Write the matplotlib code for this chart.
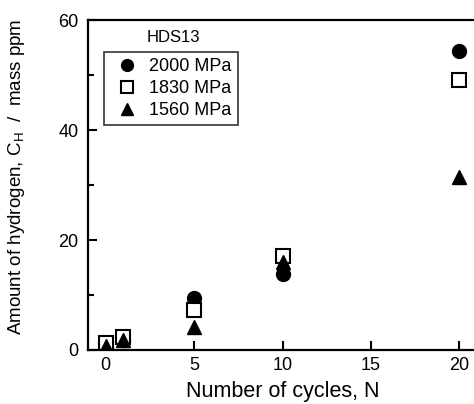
import matplotlib
matplotlib.use('Agg')
from matplotlib import pyplot

pyplot.rcParams['font.family'] = ['Liberation Sans', 'DejaVu Sans']
pyplot.rcParams['mathtext.fontset'] = 'custom'
pyplot.rcParams['mathtext.rm'] = 'Liberation Sans'

# data
cycles = [0, 1, 5, 10, 20]
h2000 = [0.3, 1.8, 9.5, 13.8, 54.5]
h1830 = [1.2, 2.3, 7.3, 17.2, 49.1]
h1560 = [0.8, 1.8, 4.2, 16.0, 31.5]
seriesLabels = ['2000 MPa', '1830 MPa', '1560 MPa']
steelName = 'HDS13'

figure = pyplot.figure(figsize=(4.74, 4.04), dpi=100)
axes = figure.add_axes([0.1857, 0.1337, 0.8207, 0.8156])

axes.plot(cycles, h2000, 'o', color='black', markersize=10, label=seriesLabels[0])
axes.plot(cycles, h1830, 's', markerfacecolor='white', markeredgecolor='black',
          markeredgewidth=1.5, markersize=10, label=seriesLabels[1])
axes.plot(cycles, h1560, '^', color='black', markersize=10, label=seriesLabels[2])

axes.set_xlim(-1, 21)
axes.set_ylim(0, 60)
axes.set_xticks([0, 5, 10, 15, 20])
axes.set_yticks([0, 20, 40, 60])
axes.set_yticks([10, 30, 50], minor=True)
axes.tick_params(which='both', direction='in', labelsize=13, width=1.5)
axes.tick_params(which='major', length=6.5)
axes.tick_params(which='minor', length=4)
axes.tick_params(axis='x', pad=5)
axes.tick_params(axis='y', pad=7)
axes.tick_params(top=False, right=False, which='both')
for side in ['left', 'bottom', 'top']:
    axes.spines[side].set_linewidth(1.6)
axes.spines['right'].set_visible(False)

axes.set_xlabel('Number of cycles, N', fontsize=15.5, labelpad=5)
axes.set_ylabel(r'Amount of hydrogen, C$_{\mathregular{H}}$  /  mass ppm', fontsize=13.5)
axes.yaxis.set_label_coords(-0.158, 0.525)

legend = axes.legend(loc='upper left', bbox_to_anchor=(104 / 474, (404 - 51.7) / 404),
                     bbox_transform=figure.transFigure, borderaxespad=0,
                     frameon=True, fancybox=False, edgecolor='black', fontsize=13,
                     markerscale=0.85, handlelength=1.8, handletextpad=0.35,
                     labelspacing=0.28, borderpad=0.35)
legend.get_frame().set_linewidth(1.2)
figure.text(173 / 474, (404 - 38) / 404, steelName, fontsize=12, ha='center', va='center')

figure.savefig('out.png', dpi=100)
